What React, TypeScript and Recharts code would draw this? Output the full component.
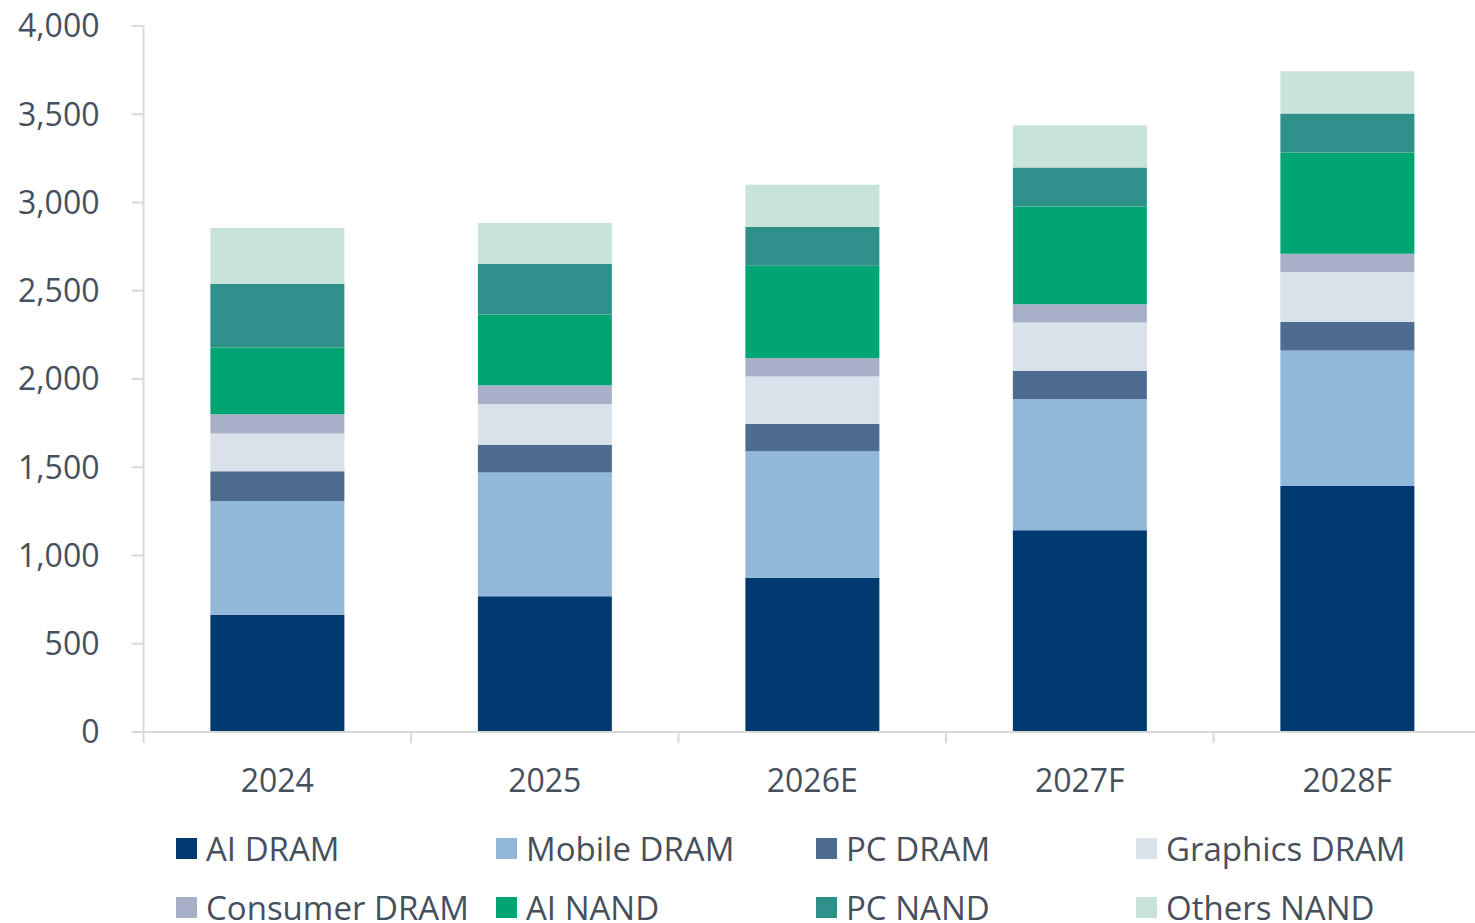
import React from "react";
import { BarChart, Bar, XAxis, YAxis } from "recharts";

const categories = ["2024", "2025", "2026E", "2027F", "2028F"];

const aiDram = [665, 769, 872, 1143, 1394];
const mobileDram = [644, 701, 718, 744, 767];
const pcDram = [168, 158, 155, 158, 162];
const graphicsDram = [214, 230, 269, 275, 283];
const consumerDram = [109, 106, 105, 103, 104];
const aiNand = [378, 401, 523, 554, 573];
const pcNand = [362, 287, 221, 221, 221];
const othersNand = [316, 232, 238, 239, 239];

const seriesNames = [
  "AI DRAM",
  "Mobile DRAM",
  "PC DRAM",
  "Graphics DRAM",
  "Consumer DRAM",
  "AI NAND",
  "PC NAND",
  "Others NAND",
];
const seriesValues = [aiDram, mobileDram, pcDram, graphicsDram, consumerDram, aiNand, pcNand, othersNand];
const seriesColors = [
  "#003a70",
  "#91b7d9",
  "#4d6c90",
  "#d9e1ea",
  "#a8b0c8",
  "#00a574",
  "#2f8f89",
  "#c8e3d9",
];

const yTicks = [0, 500, 1000, 1500, 2000, 2500, 3000, 3500, 4000];

const rows = categories.map((cat, i) => {
  const row: Record<string, string | number> = { cat };
  seriesNames.forEach((name, s) => {
    row[name] = seriesValues[s][i];
  });
  return row;
});

const textColor = "#46505d";
const axisColor = "#d9d9d9";
const font = '"Open Sans", sans-serif';

const chartW = 1482;
const chartH = 923;
const plotLeft = 143.5;
const plotRight = 1;
const band = (chartW - plotLeft - plotRight) / categories.length;

const XTick = (props: any) => {
  const { x, y, payload } = props;
  const bx = x - band / 2;
  return (
    <g>
      <line x1={bx} x2={bx} y1={y} y2={y + 11} stroke={axisColor} strokeWidth={2} />
      <text x={x} y={y + 60} textAnchor="middle" fontSize={32} fontFamily={font} fill={textColor}>
        {payload.value}
      </text>
    </g>
  );
};

export default function App() {
  return (
    <div
      style={{
        position: "absolute",
        left: 0,
        top: 0,
        width: 1475,
        height: chartH,
        overflow: "hidden",
        background: "#fff",
        fontFamily: font,
      }}
    >
      <BarChart
        width={chartW}
        height={chartH}
        data={rows}
        margin={{ top: 26, right: plotRight, left: 0.5, bottom: 0 }}
        barCategoryGap="25%"
      >
        <XAxis
          dataKey="cat"
          height={191}
          axisLine={{ stroke: axisColor, strokeWidth: 2 }}
          tickLine={false}
          tickSize={0}
          tickMargin={0}
          interval={0}
          tick={<XTick />}
        />
        <YAxis
          width={143}
          domain={[0, 4000]}
          ticks={yTicks}
          interval={0}
          tickFormatter={(v: number) => v.toLocaleString("en-US")}
          axisLine={{ stroke: axisColor, strokeWidth: 2 }}
          tickLine={{ stroke: axisColor, strokeWidth: 2 }}
          tickSize={12}
          tickMargin={32}
          tick={{ fontSize: 32, fill: textColor, fontFamily: font }}
        />
        {seriesNames.map((name, s) => (
          <Bar key={name} dataKey={name} stackId="a" fill={seriesColors[s]} isAnimationActive={false} />
        ))}
      </BarChart>

      <div
        style={{
          position: "absolute",
          left: 176,
          top: 818.5,
          display: "grid",
          gridTemplateColumns: "320px 320px 320px 320px",
        }}
      >
        {seriesNames.map((name, s) => (
          <div key={name} style={{ display: "flex", alignItems: "center", height: 59 }}>
            <span
              style={{
                display: "inline-block",
                width: 21,
                height: 21,
                background: seriesColors[s],
                marginRight: 9,
              }}
            />
            <span style={{ fontSize: 33, color: textColor, whiteSpace: "nowrap" }}>{name}</span>
          </div>
        ))}
      </div>
    </div>
  );
}
